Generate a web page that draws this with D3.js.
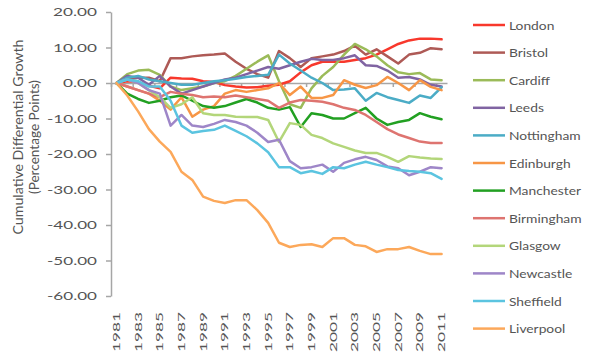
<!DOCTYPE html>
<html><head><meta charset="utf-8">
<script src="https://cdn.jsdelivr.net/npm/d3@7"></script>
<style>
body{margin:0;background:#fff;}
text{font-family:Lato,"Open Sans","Liberation Sans",sans-serif;fill:#555;}
</style></head>
<body><svg id="c" width="600" height="357"></svg>
<script>
const years = [1981,1982,1983,1984,1985,1986,1987,1988,1989,1990,1991,1992,1993,1994,1995,1996,1997,1998,1999,2000,2001,2002,2003,2004,2005,2006,2007,2008,2009,2010,2011];
const cities = ["London","Bristol","Cardiff","Leeds","Nottingham","Edinburgh","Manchester","Birmingham","Glasgow","Newcastle","Sheffield","Liverpool"];
const colors = ["#F8382C","#AE5A56","#9BBB59","#8064A2","#4BACC6","#F79646","#22A022","#DE7470","#B3D67A","#9E86C8","#5BC4E0","#FCA85A"];
const yTicks = [20,10,0,-10,-20,-30,-40,-50,-60];

const london     = [0,0.5,0.3,-0.8,-1.5,1.5,1.3,1.2,0.5,0.3,-0.6,-1.0,-1.3,-1.2,-0.8,-0.5,0.5,3.0,5.0,6.0,6.0,6.0,6.5,7.0,8.0,9.5,11.0,12.0,12.5,12.5,12.3];
const bristol    = [0,1.0,1.5,1.5,0.5,7.0,7.0,7.5,7.8,8.0,8.3,6.0,4.0,2.5,1.5,9.0,7.0,4.5,7.0,7.5,8.0,9.0,10.5,8.0,9.5,7.5,5.5,8.0,8.5,9.8,9.5];
const cardiff    = [0,2.5,3.5,3.7,2.3,-1.0,-2.0,-1.5,-1.0,0,0.5,2.0,4.0,6.0,7.8,0.5,-6.0,-7.0,-1.5,2.0,4.5,8.0,11.0,9.5,7.5,5.0,3.0,2.5,2.8,1.0,0.8];
const leeds      = [0,2.0,1.5,-0.5,2.0,-1.0,-3.0,-2.0,-1.0,0,1.0,1.5,2.5,3.5,4.5,4.0,5.0,6.0,6.8,6.5,6.5,7.0,7.8,5.0,4.8,3.5,1.5,1.7,1.0,-0.5,-1.0];
const nottingham = [0,1.5,2.0,1.0,0.5,0,-0.5,-0.5,0,0.5,0.8,1.2,1.7,2.0,2.3,8.0,5.5,3.5,1.5,0,-2.0,-1.8,-1.5,-5.0,-2.8,-4.0,-4.8,-5.6,-3.5,-4.2,-1.2];
const edinburgh  = [0,-1.0,-2.0,-3.0,-5.0,-7.5,-4.0,-9.5,-7.5,-6.5,-3.0,-2.0,-2.5,-2.0,-1.5,0,-3.4,-1.0,-4.2,-4.2,-3.4,0.8,-0.5,-1.4,-0.6,1.7,0,-2.0,0.8,-1.1,-2.0];
const manchester = [0,-3.0,-4.5,-5.6,-5.0,-4.0,-3.5,-5.0,-6.5,-7.0,-6.5,-5.5,-4.5,-5.5,-7.0,-7.5,-6.8,-12.4,-8.5,-9.0,-10.0,-10.0,-8.5,-7.0,-10.0,-11.8,-11.0,-10.4,-8.5,-9.5,-10.2];
const birmingham = [0,-1.0,-2.0,-3.0,-4.0,-2.5,-3.0,-3.4,-4.0,-3.8,-4.0,-3.5,-4.0,-4.5,-5.0,-7.0,-5.5,-4.8,-5.0,-5.3,-6.0,-7.0,-7.6,-9.0,-11.0,-13.0,-14.5,-15.5,-16.5,-16.9,-16.9];
const glasgow    = [0,1.0,0,-2.0,-4.0,-7.0,-6.0,-4.0,-8.5,-9.0,-9.0,-9.5,-9.6,-9.6,-10.4,-16.6,-11.3,-11.8,-14.6,-15.5,-17.0,-18.0,-19.0,-19.7,-19.7,-20.8,-22.2,-20.6,-21.0,-21.3,-21.4];
const newcastle  = [0,1.0,0,-2.0,-3.0,-12.0,-9.0,-12.0,-12.4,-11.5,-10.4,-11.0,-12.0,-14.0,-16.6,-16.0,-22.0,-24.0,-23.7,-23.0,-25.0,-22.5,-21.5,-20.8,-21.7,-23.5,-24.0,-26.0,-25.0,-23.7,-24.0];
const sheffield  = [0,1.0,0.5,-1.0,-1.0,-5.0,-12.0,-14.0,-13.5,-13.2,-12.0,-13.5,-15.0,-17.0,-19.5,-23.7,-23.7,-25.4,-24.8,-25.6,-23.7,-24.0,-23.0,-22.2,-23.0,-23.7,-24.5,-24.8,-25.0,-25.4,-27.0];
const liverpool  = [0,-3.5,-8.0,-13.0,-16.5,-19.4,-25.0,-27.3,-32.0,-33.2,-33.8,-33.0,-33.0,-35.8,-39.4,-45.0,-46.2,-45.6,-45.4,-46.2,-43.7,-43.7,-45.6,-46.0,-47.6,-46.8,-46.8,-46.2,-47.3,-48.2,-48.2];
const seriesValues = [london,bristol,cardiff,leeds,nottingham,edinburgh,manchester,birmingham,glasgow,newcastle,sheffield,liverpool];

const svg = d3.select("#c");
const pLeft = 111, pRight = 447, pTop = 12, pBottom = 296;
const x = d3.scaleBand().domain(years).range([pLeft, pRight]);
const xc = d => x(d) + x.bandwidth()/2;
const y = d3.scaleLinear().domain([-60, 20]).range([pBottom, pTop]);
const axisColor = "#A6A6A6";

// Y axis
const ya = svg.append("g").attr("transform", `translate(${pLeft},0)`)
  .call(d3.axisLeft(y).tickValues(yTicks).tickSize(5).tickSizeOuter(0).tickFormat(d => d.toFixed(2)));
ya.select(".domain").attr("stroke", axisColor).attr("stroke-width", 1.5);
ya.selectAll(".tick line").attr("stroke", axisColor).attr("stroke-width", 1.5);
ya.selectAll(".tick text").attr("x", -14).attr("font-size", 12).attr("fill", "#555")
  .style("font-family", "Lato, sans-serif")
  .each(function(d){
    const s = d.toFixed(2);
    let L = 0; for (const ch of s) L += (ch === "." ? 4 : ch === "-" ? 6 : 10);
    d3.select(this).attr("textLength", L).attr("lengthAdjust", "spacingAndGlyphs");
  });

// X axis line at zero with boundary ticks
const xb = d3.scaleLinear().domain([0, years.length]).range([pLeft, pRight]);
const xa = svg.append("g").attr("transform", `translate(0,${y(0)})`)
  .call(d3.axisBottom(xb).tickValues(d3.range(0, years.length + 1, 2)).tickSize(4).tickSizeOuter(0).tickFormat(""));
xa.select(".domain").attr("stroke", axisColor).attr("stroke-width", 1.5);
xa.selectAll(".tick line").attr("stroke", axisColor).attr("stroke-width", 1.5);

// Year labels at bottom
const labelYears = years.filter((d, i) => i % 2 === 0);
svg.append("g").selectAll("text").data(labelYears).join("text")
  .attr("transform", d => `translate(${xc(d)},312) rotate(-90)`)
  .attr("text-anchor", "end").attr("dy", "0.35em")
  .attr("font-size", 10).attr("textLength", 40).attr("lengthAdjust", "spacingAndGlyphs")
  .text(d => d);

// Lines
const line = d3.line().x((d, i) => xc(years[i])).y(d => y(d));
svg.append("g").selectAll("path").data(seriesValues).join("path")
  .attr("d", d => line(d)).attr("fill", "none")
  .attr("stroke", (d, i) => colors[i]).attr("stroke-width", 2.5)
  .attr("stroke-linejoin", "round").attr("stroke-linecap", "round");

// Y title
const yt = svg.append("text").attr("transform", "translate(23,137) rotate(-90)")
  .attr("text-anchor", "middle").attr("font-size", 13);
yt.append("tspan").attr("x", 0).attr("y", 0).attr("textLength", 195).attr("lengthAdjust", "spacingAndGlyphs").text("Cumulative Differential Growth");
yt.append("tspan").attr("x", 0).attr("y", 16).attr("textLength", 114).attr("lengthAdjust", "spacingAndGlyphs").text("(Percentage Points)");

// Legend
const lg = svg.append("g");
cities.forEach((c, i) => {
  const ry = 25 + i * 27.6;
  lg.append("line").attr("x1", 473).attr("x2", 505).attr("y1", ry).attr("y2", ry)
    .attr("stroke", colors[i]).attr("stroke-width", 2.5);
  const t = lg.append("text").attr("x", 509).attr("y", ry + 4.5).attr("font-size", 12).text(c);
  const L = t.node().getComputedTextLength();
  t.attr("textLength", L * 1.15).attr("lengthAdjust", "spacingAndGlyphs");
});
</script></body></html>
